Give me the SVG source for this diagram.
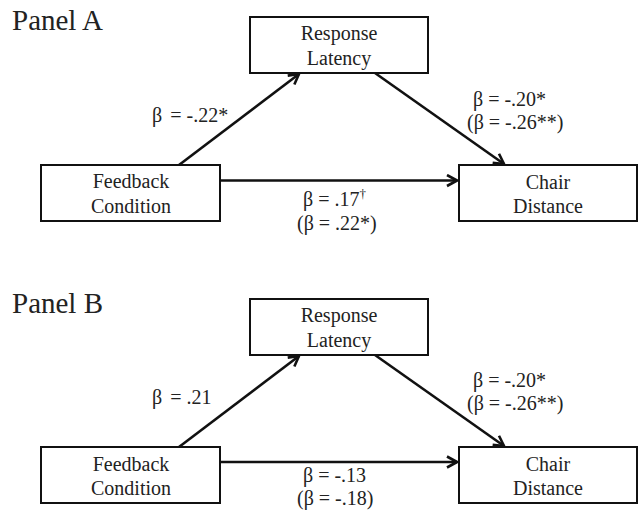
<svg xmlns="http://www.w3.org/2000/svg" width="640" height="517" viewBox="0 0 640 517">
<style>
text{font-family:"Liberation Serif","Times New Roman",serif;fill:#222;font-size:20px}
.title{font-size:29px}
.c{text-anchor:middle}
.box{fill:#fff;stroke:#111;stroke-width:2}
.edge{stroke:#111;stroke-width:2.6;fill:none;marker-end:url(#arr)}
</style>
<defs>
<marker id="arr" markerUnits="userSpaceOnUse" viewBox="-12 -7 14 14" refX="0" refY="0" markerWidth="14" markerHeight="14" orient="auto">
<path d="M-10,-5.5 L0,0 L-10,5.5" fill="none" stroke="#111" stroke-width="2.6" stroke-linejoin="miter"/>
</marker>
</defs>

<text class="title" x="12" y="30">Panel A</text>
<g id="connectors-a">
<line class="edge" x1="179" y1="165" x2="299" y2="74"/>
<line class="edge" x1="375" y1="73" x2="504" y2="164"/>
<line class="edge" x1="221" y1="180.5" x2="457" y2="180.5"/>
<text x="152" y="122">β<tspan dx="8">= -.22*</tspan></text>
<text x="473" y="106">β = -.20*</text>
<text x="467" y="129">(β = -.26**)</text>
<text x="303" y="206">β = .17<tspan font-size="13" dy="-8">†</tspan></text>
<text x="297" y="230">(β = .22*)</text>
</g>
<g id="a-response-latency">
<rect class="box" x="250" y="17" width="178" height="56"/>
<text class="c" x="339" y="40">Response</text>
<text class="c" x="339" y="65">Latency</text>
</g>
<g id="a-feedback-condition">
<rect class="box" x="41" y="165" width="179" height="56"/>
<text class="c" x="131" y="188">Feedback</text>
<text class="c" x="131" y="213">Condition</text>
</g>
<g id="a-chair-distance">
<rect class="box" x="459" y="165" width="178" height="56"/>
<text class="c" x="548" y="189">Chair</text>
<text class="c" x="548" y="213">Distance</text>
</g>

<text class="title" x="12" y="313">Panel B</text>
<g id="connectors-b">
<line class="edge" x1="179" y1="447" x2="299" y2="356"/>
<line class="edge" x1="375" y1="355" x2="504" y2="446"/>
<line class="edge" x1="221" y1="462" x2="457" y2="462"/>
<text x="152" y="404">β<tspan dx="8">= .21</tspan></text>
<text x="473" y="387">β = -.20*</text>
<text x="467" y="410">(β = -.26**)</text>
<text x="303" y="482">β = -.13</text>
<text x="297" y="505">(β = -.18)</text>
</g>
<g id="b-response-latency">
<rect class="box" x="250" y="299" width="178" height="56"/>
<text class="c" x="339" y="322">Response</text>
<text class="c" x="339" y="347">Latency</text>
</g>
<g id="b-feedback-condition">
<rect class="box" x="41" y="447" width="179" height="56"/>
<text class="c" x="131" y="471">Feedback</text>
<text class="c" x="131" y="495">Condition</text>
</g>
<g id="b-chair-distance">
<rect class="box" x="459" y="447" width="178" height="56"/>
<text class="c" x="548" y="471">Chair</text>
<text class="c" x="548" y="495">Distance</text>
</g>
</svg>
